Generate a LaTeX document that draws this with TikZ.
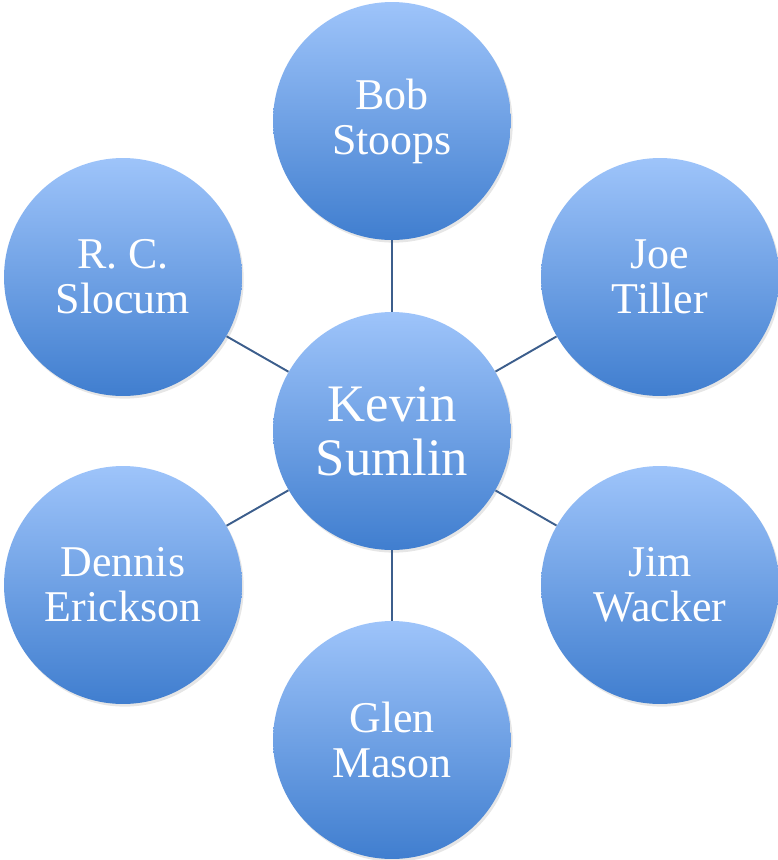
\documentclass[tikz,border=0pt]{standalone}
\usepackage{fontspec}
\setmainfont{Liberation Serif}
\usetikzlibrary{shadows}
\definecolor{bubtop}{RGB}{158,196,250}
\definecolor{bubmid}{RGB}{128,170,236}
\definecolor{bubbot}{RGB}{64,126,207}
\definecolor{spoke}{RGB}{60,94,140}
\begin{document}
\begin{tikzpicture}[x=0.02cm,y=-0.02cm,
  bubble/.style={circle,minimum size=4.76cm,inner sep=0pt,align=center,
    top color=bubtop,middle color=bubmid,bottom color=bubbot,text=white,
    drop shadow={opacity=0.2,shadow xshift=1pt,shadow yshift=-1.5pt}},
  hub/.style={bubble,font=\fontsize{30}{30.7}\selectfont},
  coach/.style={bubble,font=\fontsize{25}{25.6}\selectfont},
  link/.style={draw=spoke,line width=1.1pt}]
\useasboundingbox (0,0) rectangle (778,860);
\node[hub] (kevin) at (392,431) {Kevin\\Sumlin};
\node[coach] (stoops) at (392,121) {Bob\\Stoops};
\node[coach] (tiller) at (660,277) {Joe\\Tiller};
\node[coach] (slocum) at (123,277) {R. C.\\Slocum};
\node[coach] (erickson) at (123,585) {Dennis\\Erickson};
\node[coach] (wacker) at (660,585) {Jim\\Wacker};
\node[coach] (mason) at (392,740) {Glen\\Mason};
\foreach \c in {stoops,tiller,slocum,erickson,wacker,mason}
  \draw[link] (kevin)--(\c);
\end{tikzpicture}
\end{document}
